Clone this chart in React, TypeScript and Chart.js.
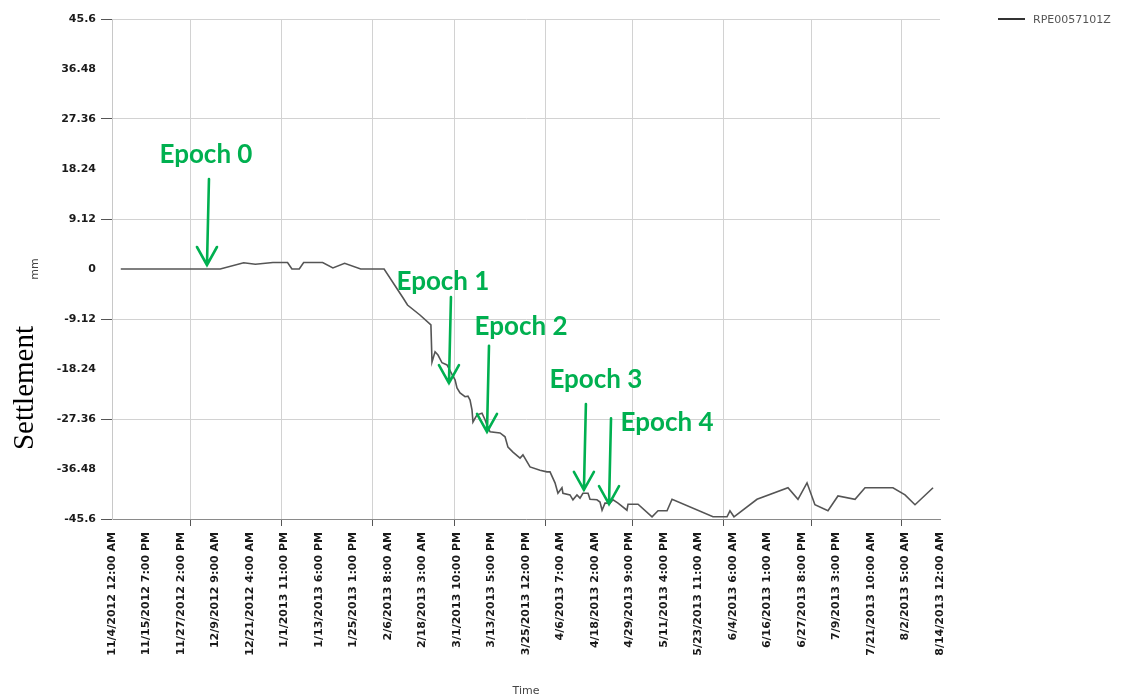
import React, { useEffect, useRef } from 'react';
import { Chart, registerables } from 'chart.js';

Chart.register(...registerables);

// ---- data ----
const seriesName = 'RPE0057101Z';

const timeTickLabels = [
  '11/4/2012 12:00 AM', '11/15/2012 7:00 PM', '11/27/2012 2:00 PM', '12/9/2012 9:00 AM',
  '12/21/2012 4:00 AM', '1/1/2013 11:00 PM', '1/13/2013 6:00 PM', '1/25/2013 1:00 PM',
  '2/6/2013 8:00 AM', '2/18/2013 3:00 AM', '3/1/2013 10:00 PM', '3/13/2013 5:00 PM',
  '3/25/2013 12:00 PM', '4/6/2013 7:00 AM', '4/18/2013 2:00 AM', '4/29/2013 9:00 PM',
  '5/11/2013 4:00 PM', '5/23/2013 11:00 AM', '6/4/2013 6:00 AM', '6/16/2013 1:00 AM',
  '6/27/2013 8:00 PM', '7/9/2013 3:00 PM', '7/21/2013 10:00 AM', '8/2/2013 5:00 AM',
  '8/14/2013 12:00 AM',
];

const mmTickValues = [-45.6, -36.48, -27.36, -18.24, -9.12, 0, 9.12, 18.24, 27.36, 36.48, 45.6];

const readingTimes = [
  '2012-11-07 00:00', '2012-12-11 00:00', '2012-12-19 00:00', '2012-12-23 00:00',
  '2012-12-29 00:00', '2013-01-03 00:00', '2013-01-04 12:00', '2013-01-07 00:00',
  '2013-01-08 12:00', '2013-01-15 00:00', '2013-01-18 12:00', '2013-01-22 12:00',
  '2013-01-28 00:00', '2013-02-05 00:00', '2013-02-11 12:00', '2013-02-13 00:00',
  '2013-02-17 06:00', '2013-02-21 00:00', '2013-02-21 09:00', '2013-02-22 10:00',
  '2013-02-23 10:00', '2013-02-24 19:00', '2013-02-26 12:00', '2013-02-28 05:00',
  '2013-03-01 06:00', '2013-03-01 22:00', '2013-03-02 23:00', '2013-03-04 16:00',
  '2013-03-05 16:00', '2013-03-06 09:00', '2013-03-07 01:00', '2013-03-07 09:00',
  '2013-03-08 18:00', '2013-03-10 11:00', '2013-03-11 12:00', '2013-03-12 04:00',
  '2013-03-13 05:00', '2013-03-16 15:00', '2013-03-18 08:00', '2013-03-19 08:00',
  '2013-03-21 01:00', '2013-03-23 11:00', '2013-03-24 11:00', '2013-03-26 21:00',
  '2013-03-30 07:00', '2013-04-01 16:00', '2013-04-02 17:00', '2013-04-04 10:00',
  '2013-04-05 10:00', '2013-04-06 19:00', '2013-04-07 03:00', '2013-04-09 13:00',
  '2013-04-10 13:00', '2013-04-11 22:00', '2013-04-12 23:00', '2013-04-13 23:00',
  '2013-04-15 17:00', '2013-04-16 09:00', '2013-04-18 18:00', '2013-04-19 19:00',
  '2013-04-20 12:00', '2013-04-21 12:00', '2013-04-23 05:00', '2013-04-24 06:00',
  '2013-04-25 23:00', '2013-04-29 00:00', '2013-04-29 09:00', '2013-05-02 19:00',
  '2013-05-07 14:00', '2013-05-09 15:00', '2013-05-12 17:00', '2013-05-14 10:00',
  '2013-05-28 10:00', '2013-06-02 05:00', '2013-06-03 05:00', '2013-06-04 14:00',
  '2013-06-12 11:00', '2013-06-23 01:00', '2013-06-26 11:00', '2013-06-29 13:00',
  '2013-07-02 06:00', '2013-07-06 17:00', '2013-07-10 03:00', '2013-07-15 23:00',
  '2013-07-19 09:00', '2013-07-28 22:00', '2013-08-02 01:00', '2013-08-05 11:00',
  '2013-08-11 15:00',
];

const readingValues = [
  0, 0, 1.15, 0.86,
  1.19, 1.19, 0, 0,
  1.19, 1.19, 0.2, 1.04,
  0, 0, -5.29, -6.57,
  -8.39, -10.2, -16.96, -15.1,
  -15.7, -17.1, -17.5, -19.2,
  -20.2, -21.7, -22.6, -23.3,
  -23.2, -23.9, -25.7, -27.9,
  -26.6, -26.3, -27.5, -28.5,
  -29.7, -29.9, -30.6, -32.5,
  -33.4, -34.5, -33.9, -36.1,
  -36.7, -37.0, -37.0, -39.0,
  -40.9, -39.9, -40.9, -41.2,
  -42.1, -41.2, -41.8, -40.9,
  -40.9, -42.0, -42.1, -42.5,
  -44.0, -42.7, -42.7, -42.1,
  -42.7, -44.0, -42.9, -42.9,
  -45.2, -44.1, -44.1, -42.0,
  -45.2, -45.2, -44.1, -45.2,
  -42.0, -39.9, -42.0, -39.0,
  -43.0, -44.1, -41.4, -42.0,
  -39.9, -39.9, -41.2, -43.0,
  -39.9,
];

const epochNames = ['Epoch 0', 'Epoch 1', 'Epoch 2', 'Epoch 3', 'Epoch 4'];
const epochTimes = ['2012-12-06 11:00', '2013-02-27 04:00', '2013-03-12 04:00', '2013-04-14 07:00', '2013-04-22 21:00'];
const epochValues = [0.73, -20.8, -29.7, -40.3, -42.9];

// ---- helpers ----
function isoToMs(s: string): number {
  const m = s.match(/(\d+)-(\d+)-(\d+) (\d+):(\d+)/)!;
  return Date.UTC(+m[1], +m[2] - 1, +m[3], +m[4], +m[5]);
}

function usToMs(s: string): number {
  const m = s.match(/(\d+)\/(\d+)\/(\d+) (\d+):(\d+) (AM|PM)/)!;
  const h = (+m[4] % 12) + (m[6] === 'PM' ? 12 : 0);
  return Date.UTC(+m[3], +m[1] - 1, +m[2], h, +m[5]);
}

const labelTickMs = timeTickLabels.map(usToMs);
const xMin = labelTickMs[0];
const xMax = labelTickMs[labelTickMs.length - 1];

// first day of each month inside the axis range: these carry the vertical grid
function monthStarts(min: number, max: number): number[] {
  const out: number[] = [];
  const d = new Date(min);
  let y = d.getUTCFullYear();
  let mo = d.getUTCMonth() + 1;
  for (;;) {
    if (mo > 11) { mo = 0; y += 1; }
    const t = Date.UTC(y, mo, 1);
    if (t >= max) break;
    if (t > min) out.push(t);
    mo += 1;
  }
  return out;
}

type XTick = { value: number; kind: 'label' | 'month'; text: string };
const xTicks: XTick[] = [
  ...timeTickLabels.map((t, i) => ({ value: labelTickMs[i], kind: 'label' as const, text: t })),
  ...monthStarts(xMin, xMax).map((v) => ({ value: v, kind: 'month' as const, text: '' })),
].sort((a, b) => a.value - b.value);

const points = readingTimes.map((t, i) => ({ x: isoToMs(t), y: readingValues[i] }));

const EPOCH_GREEN = '#00b050';
// label baseline offsets (px) from each arrow tip
const epochLabelOffsets: [number, number][] = [[-1, -102], [-6, -93], [34, -97], [12, -102], [58, -73]];

const overlayPlugin = {
  id: 'overlay',
  afterDraw(chart: any) {
    const { ctx, chartArea, scales } = chart;
    const xs = scales.x;
    const ys = scales.y;
    ctx.save();

    // legend
    ctx.strokeStyle = '#333';
    ctx.lineWidth = 2;
    ctx.beginPath();
    ctx.moveTo(998, 19);
    ctx.lineTo(1025, 19);
    ctx.stroke();
    ctx.fillStyle = '#555';
    ctx.font = '11px "DejaVu Sans"';
    ctx.textAlign = 'left';
    ctx.textBaseline = 'middle';
    ctx.fillText(seriesName, 1033, 20);

    // axis titles
    ctx.fillStyle = '#444';
    ctx.font = '11px "DejaVu Sans"';
    ctx.textAlign = 'center';
    ctx.textBaseline = 'middle';
    ctx.fillText('Time', (chartArea.left + chartArea.right) / 2, 691);

    ctx.save();
    ctx.translate(35, ys.getPixelForValue(0));
    ctx.rotate(-Math.PI / 2);
    ctx.fillText('mm', 0, 0);
    ctx.restore();

    ctx.save();
    ctx.translate(33, 388);
    ctx.rotate(-Math.PI / 2);
    ctx.fillStyle = '#000';
    ctx.font = '29px "Liberation Serif"';
    ctx.textAlign = 'center';
    ctx.textBaseline = 'alphabetic';
    ctx.fillText('Settlement', 0, 0);
    ctx.restore();

    // epoch arrows
    ctx.strokeStyle = EPOCH_GREEN;
    ctx.fillStyle = EPOCH_GREEN;
    ctx.lineWidth = 2.6;
    ctx.lineCap = 'round';
    ctx.font = 'bold 26px Lato';
    ctx.textAlign = 'center';
    ctx.textBaseline = 'alphabetic';
    epochNames.forEach((name, i) => {
      const tx = xs.getPixelForValue(isoToMs(epochTimes[i]));
      const ty = ys.getPixelForValue(epochValues[i]);
      ctx.beginPath();
      ctx.moveTo(tx + 2, ty - 86);
      ctx.lineTo(tx, ty);
      ctx.moveTo(tx - 10, ty - 18);
      ctx.lineTo(tx, ty);
      ctx.lineTo(tx + 10, ty - 18);
      ctx.stroke();
      const [dx, dy] = epochLabelOffsets[i];
      ctx.fillText(name, tx + dx, ty + dy);
    });

    ctx.restore();
  },
};

const tickFont = { family: '"DejaVu Sans"', size: 11, weight: 'bold' as const };

export default function App() {
  const canvasRef = useRef<HTMLCanvasElement | null>(null);

  useEffect(() => {
    const canvas = canvasRef.current;
    if (!canvas) return;
    const chart = new Chart(canvas, {
      type: 'line',
      data: {
        datasets: [
          {
            label: seriesName,
            data: points,
            borderColor: '#555',
            borderWidth: 1.6,
            pointRadius: 0,
            tension: 0,
            fill: false,
          },
        ],
      },
      options: {
        responsive: false,
        animation: false,
        devicePixelRatio: 1,
        layout: { padding: { top: 19, right: 187, bottom: 0, left: 0 } },
        plugins: { legend: { display: false }, tooltip: { enabled: false } },
        scales: {
          x: {
            type: 'linear',
            min: xMin,
            max: xMax,
            afterBuildTicks: (scale: any) => {
              scale.ticks = xTicks.map((t) => ({ value: t.value, kind: t.kind, text: t.text }));
            },
            afterFit: (scale: any) => {
              scale.height = 181;
            },
            ticks: {
              autoSkip: false,
              minRotation: 90,
              maxRotation: 90,
              padding: 6,
              color: '#1a1a1a',
              font: tickFont,
              callback: (_v: any, i: number, ticks: any[]) => (ticks[i] && ticks[i].text) || '',
            },
            grid: {
              color: (c: any) => (c.tick && c.tick.kind === 'month' ? '#d2d2d2' : 'rgba(0,0,0,0)'),
              tickColor: (c: any) => (c.tick && c.tick.kind === 'month' ? '#555' : 'rgba(0,0,0,0)'),
              tickLength: 7,
              lineWidth: 1,
            },
            border: { color: '#8a8a8a', width: 1 },
          },
          y: {
            min: mmTickValues[0],
            max: mmTickValues[mmTickValues.length - 1],
            afterBuildTicks: (scale: any) => {
              scale.ticks = mmTickValues.map((v) => ({ value: v }));
            },
            afterFit: (scale: any) => {
              scale.width = 112;
            },
            ticks: {
              padding: 5,
              color: '#1a1a1a',
              font: tickFont,
              callback: (v: any) => String(v),
            },
            grid: {
              color: (c: any) => (c.index % 2 === 0 ? '#d2d2d2' : 'rgba(0,0,0,0)'),
              tickColor: (c: any) => (c.index % 2 === 0 ? '#555' : 'rgba(0,0,0,0)'),
              tickLength: 11,
              lineWidth: 1,
            },
            border: { color: '#c8c8c8', width: 1 },
          },
        },
      },
      plugins: [overlayPlugin],
    });
    return () => chart.destroy();
  }, []);

  return (
    <div style={{ position: 'absolute', left: 0, top: 0, width: 1127, height: 700, background: '#fff' }}>
      <canvas ref={canvasRef} width={1127} height={700} style={{ width: 1127, height: 700, display: 'block' }} />
    </div>
  );
}
